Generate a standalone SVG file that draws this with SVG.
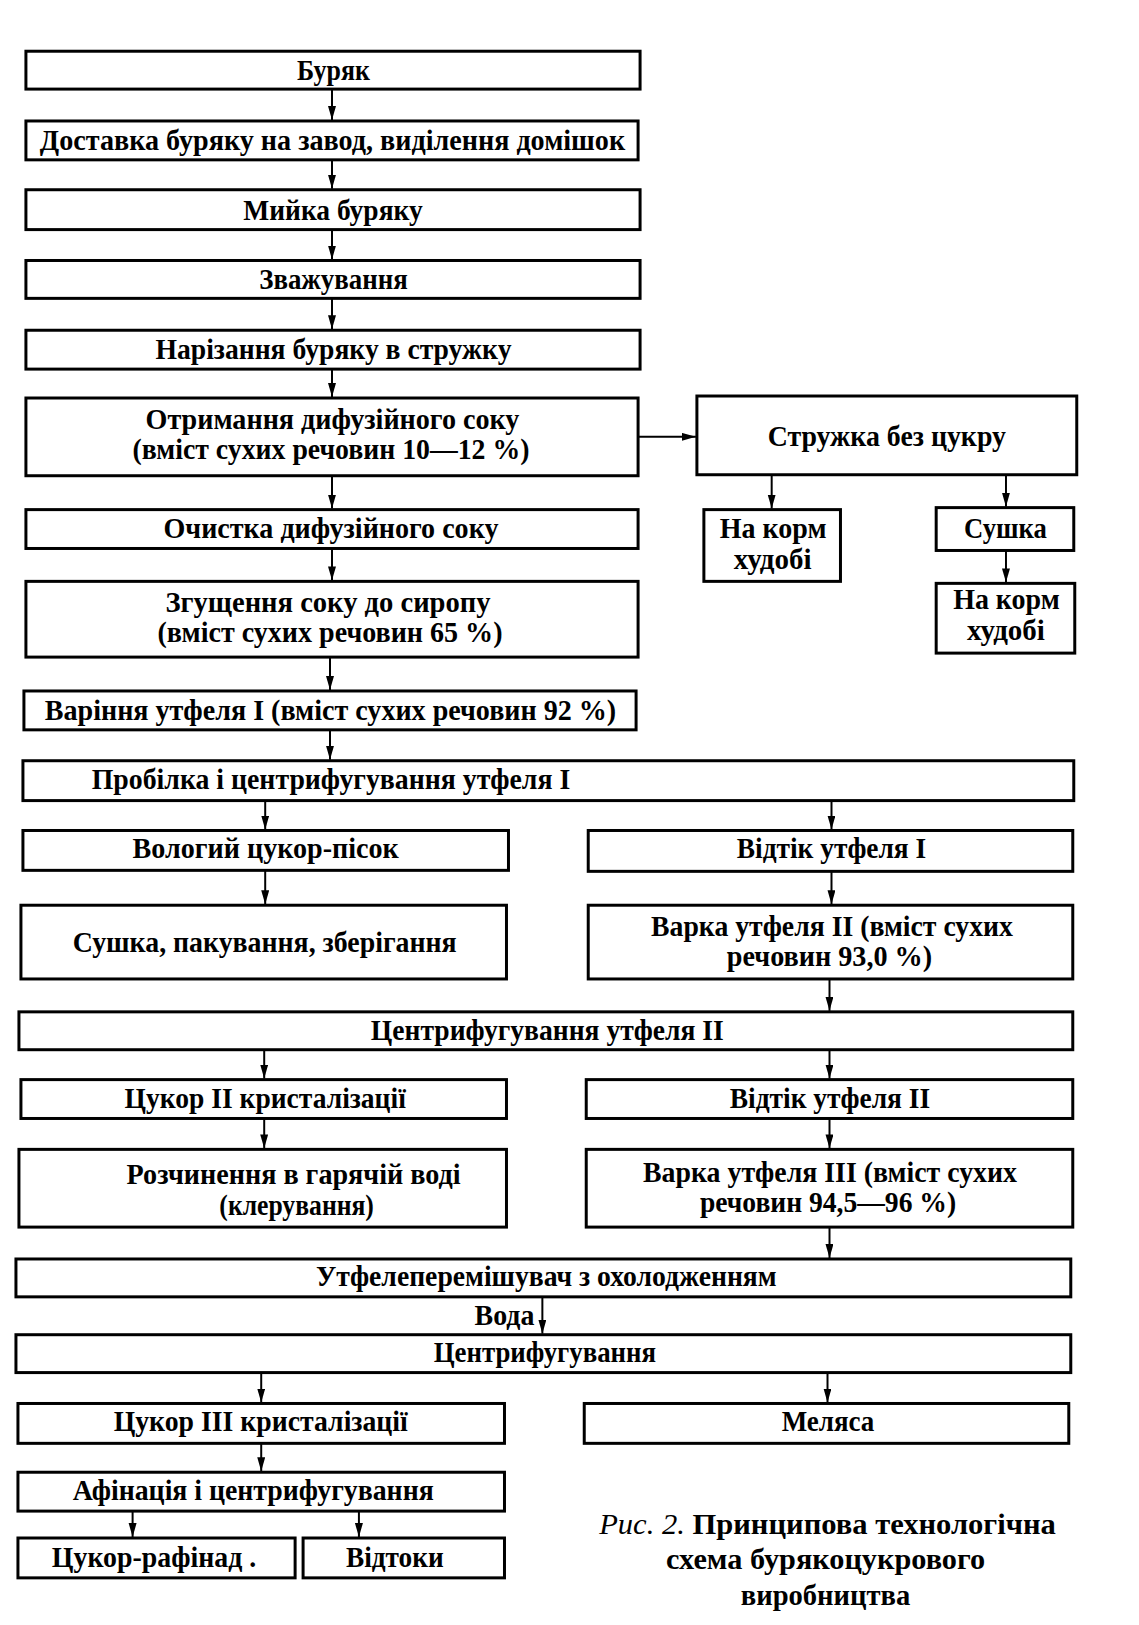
<svg xmlns="http://www.w3.org/2000/svg" width="1139" height="1625" viewBox="0 0 1139 1625">
<defs>
<marker id="ah" markerUnits="userSpaceOnUse" markerWidth="15" markerHeight="9" refX="14" refY="4" orient="auto">
<path d="M0,0 L14,4 L0,8 z" fill="#000"/>
</marker>
<style>
.b{fill:#fff;stroke:#000;stroke-width:3}
.t{font-family:"Liberation Serif","Times New Roman",serif;font-weight:bold;font-size:29px;text-anchor:middle;fill:#000}
.c{stroke:#000;stroke-width:2;fill:none;marker-end:url(#ah)}
</style>
</defs>
<rect width="1139" height="1625" fill="#fff"/>
<g transform="matrix(0.997 0 0 0.9965 0 1.4)">
<g id="connectors">
<line class="c" x1="333" y1="88" x2="333" y2="119"/>
<line class="c" x1="333" y1="159" x2="333" y2="188"/>
<line class="c" x1="333" y1="229" x2="333" y2="259"/>
<line class="c" x1="333" y1="298" x2="333" y2="329"/>
<line class="c" x1="333" y1="369" x2="333" y2="397"/>
<line class="c" x1="640" y1="437" x2="698" y2="437"/>
<line class="c" x1="774" y1="475" x2="774" y2="509"/>
<line class="c" x1="1009" y1="475" x2="1009" y2="507"/>
<line class="c" x1="1009" y1="551" x2="1009" y2="583"/>
<line class="c" x1="333" y1="476" x2="333" y2="509"/>
<line class="c" x1="333" y1="549" x2="333" y2="581"/>
<line class="c" x1="331" y1="658" x2="331" y2="691"/>
<line class="c" x1="331" y1="731" x2="331" y2="761"/>
<line class="c" x1="266" y1="802" x2="266" y2="831"/>
<line class="c" x1="834" y1="802" x2="834" y2="831"/>
<line class="c" x1="266" y1="872" x2="266" y2="906"/>
<line class="c" x1="834" y1="873" x2="834" y2="906"/>
<line class="c" x1="832" y1="981" x2="832" y2="1013"/>
<line class="c" x1="265" y1="1052" x2="265" y2="1081"/>
<line class="c" x1="832" y1="1052" x2="832" y2="1081"/>
<line class="c" x1="265" y1="1121" x2="265" y2="1151"/>
<line class="c" x1="832" y1="1121" x2="832" y2="1151"/>
<line class="c" x1="832" y1="1230" x2="832" y2="1261"/>
<line class="c" x1="544" y1="1300" x2="544" y2="1337"/>
<line class="c" x1="262" y1="1376" x2="262" y2="1406"/>
<line class="c" x1="830" y1="1376" x2="830" y2="1406"/>
<line class="c" x1="262" y1="1447" x2="262" y2="1475"/>
<line class="c" x1="133" y1="1515" x2="133" y2="1541"/>
<line class="c" x1="360" y1="1515" x2="360" y2="1541"/>
</g>
<g id="n1"><rect class="b" x="26" y="50" width="616" height="38"/><text class="t" x="334.5" y="79" textLength="73" lengthAdjust="spacingAndGlyphs">Буряк</text></g>
<g id="n2"><rect class="b" x="26" y="120" width="614" height="39"/><text class="t" x="333.5" y="149" textLength="587" lengthAdjust="spacingAndGlyphs">Доставка буряку на завод, виділення домішок</text></g>
<g id="n3"><rect class="b" x="26" y="189" width="616" height="40"/><text class="t" x="334" y="219" textLength="180" lengthAdjust="spacingAndGlyphs">Мийка буряку</text></g>
<g id="n4"><rect class="b" x="26" y="260" width="616" height="38"/><text class="t" x="334.5" y="289" textLength="149" lengthAdjust="spacingAndGlyphs">Зважування</text></g>
<g id="n5"><rect class="b" x="26" y="330" width="616" height="39"/><text class="t" x="334.5" y="359" textLength="357" lengthAdjust="spacingAndGlyphs">Нарізання буряку в стружку</text></g>
<g id="n6"><rect class="b" x="26" y="398" width="614" height="78"/><text class="t" x="333.5" y="429" textLength="375" lengthAdjust="spacingAndGlyphs">Отримання дифузійного соку</text><text class="t" x="332" y="459" textLength="398" lengthAdjust="spacingAndGlyphs">(вміст сухих речовин 10—12 %)</text></g>
<g id="n7"><rect class="b" x="699" y="396" width="381" height="79"/><text class="t" x="889.5" y="446" textLength="239" lengthAdjust="spacingAndGlyphs">Стружка без цукру</text></g>
<g id="n8"><rect class="b" x="26" y="510" width="614" height="39"/><text class="t" x="332" y="539" textLength="336" lengthAdjust="spacingAndGlyphs">Очистка дифузійного соку</text></g>
<g id="n9"><rect class="b" x="706" y="510" width="137" height="72"/><text class="t" x="775.5" y="538" textLength="107" lengthAdjust="spacingAndGlyphs">На корм</text><text class="t" x="775" y="570" textLength="78" lengthAdjust="spacingAndGlyphs">худобі</text></g>
<g id="n10"><rect class="b" x="939" y="508" width="138" height="43"/><text class="t" x="1008.5" y="539" textLength="83" lengthAdjust="spacingAndGlyphs">Сушка</text></g>
<g id="n11"><rect class="b" x="939" y="584" width="139" height="70"/><text class="t" x="1009.5" y="610" textLength="107" lengthAdjust="spacingAndGlyphs">На корм</text><text class="t" x="1009" y="641" textLength="78" lengthAdjust="spacingAndGlyphs">худобі</text></g>
<g id="n12"><rect class="b" x="26" y="582" width="614" height="76"/><text class="t" x="329" y="613" textLength="326" lengthAdjust="spacingAndGlyphs">Згущення соку до сиропу</text><text class="t" x="331" y="643" textLength="346" lengthAdjust="spacingAndGlyphs">(вміст сухих речовин 65 %)</text></g>
<g id="n13"><rect class="b" x="24" y="692" width="614" height="39"/><text class="t" x="331.5" y="721" textLength="573" lengthAdjust="spacingAndGlyphs">Варіння утфеля I (вміст сухих речовин 92 %)</text></g>
<g id="n14"><rect class="b" x="23" y="762" width="1054" height="40"/><text class="t" x="92" y="790" style="text-anchor:start" textLength="480" lengthAdjust="spacingAndGlyphs">Пробілка і центрифугування утфеля I</text></g>
<g id="n15"><rect class="b" x="23" y="832" width="487" height="40"/><text class="t" x="266.5" y="860" textLength="267" lengthAdjust="spacingAndGlyphs">Вологий цукор-пісок</text></g>
<g id="n16"><rect class="b" x="590" y="832" width="486" height="41"/><text class="t" x="834" y="860" textLength="190" lengthAdjust="spacingAndGlyphs">Відтік утфеля I</text></g>
<g id="n17"><rect class="b" x="21" y="907" width="487" height="74"/><text class="t" x="265.5" y="954" textLength="385" lengthAdjust="spacingAndGlyphs">Сушка, пакування, зберігання</text></g>
<g id="n18"><rect class="b" x="590" y="907" width="486" height="74"/><text class="t" x="834.5" y="938" textLength="363" lengthAdjust="spacingAndGlyphs">Варка утфеля II (вміст сухих</text><text class="t" x="832" y="968" textLength="206" lengthAdjust="spacingAndGlyphs">речовин 93,0 %)</text></g>
<g id="n19"><rect class="b" x="19" y="1014" width="1057" height="38"/><text class="t" x="549" y="1042" textLength="354" lengthAdjust="spacingAndGlyphs">Центрифугування утфеля II</text></g>
<g id="n20"><rect class="b" x="21" y="1082" width="487" height="39"/><text class="t" x="266" y="1111" textLength="282" lengthAdjust="spacingAndGlyphs">Цукор II кристалізації</text></g>
<g id="n21"><rect class="b" x="588" y="1082" width="488" height="39"/><text class="t" x="832.5" y="1111" textLength="201" lengthAdjust="spacingAndGlyphs">Відтік утфеля II</text></g>
<g id="n22"><rect class="b" x="19" y="1152" width="489" height="78"/><text class="t" x="294.5" y="1187" textLength="335" lengthAdjust="spacingAndGlyphs">Розчинення в гарячій воді</text><text class="t" x="297.5" y="1218" textLength="155" lengthAdjust="spacingAndGlyphs">(клерування)</text></g>
<g id="n23"><rect class="b" x="588" y="1152" width="488" height="78"/><text class="t" x="832.5" y="1185" textLength="375" lengthAdjust="spacingAndGlyphs">Варка утфеля III (вміст сухих</text><text class="t" x="830.5" y="1215" textLength="257" lengthAdjust="spacingAndGlyphs">речовин 94,5—96 %)</text></g>
<g id="n24"><rect class="b" x="16" y="1262" width="1058" height="38"/><text class="t" x="548" y="1289" textLength="462" lengthAdjust="spacingAndGlyphs">Утфелеперемішувач з охолодженням</text></g>
<g id="n25"><text class="t" x="506" y="1328" textLength="60" lengthAdjust="spacingAndGlyphs">Вода</text></g>
<g id="n26"><rect class="b" x="16" y="1338" width="1058" height="38"/><text class="t" x="546.5" y="1365" textLength="223" lengthAdjust="spacingAndGlyphs">Центрифугування</text></g>
<g id="n27"><rect class="b" x="18" y="1407" width="488" height="40"/><text class="t" x="261.5" y="1435" textLength="295" lengthAdjust="spacingAndGlyphs">Цукор III кристалізації</text></g>
<g id="n28"><rect class="b" x="586" y="1407" width="486" height="40"/><text class="t" x="830.5" y="1435" textLength="93" lengthAdjust="spacingAndGlyphs">Меляса</text></g>
<g id="n29"><rect class="b" x="18" y="1476" width="488" height="39"/><text class="t" x="254" y="1504" textLength="362" lengthAdjust="spacingAndGlyphs">Афінація і центрифугування</text></g>
<g id="n30"><rect class="b" x="18" y="1542" width="278" height="40"/><text class="t" x="154.5" y="1571" textLength="205" lengthAdjust="spacingAndGlyphs">Цукор-рафінад .</text></g>
<g id="n31"><rect class="b" x="304" y="1542" width="202" height="40"/><text class="t" x="396" y="1571" textLength="98" lengthAdjust="spacingAndGlyphs">Відтоки</text></g>
<g id="caption">
<text class="t" x="830" y="1538" textLength="458" lengthAdjust="spacingAndGlyphs"><tspan font-style="italic" font-weight="normal">Рис. 2.</tspan> Принципова технологічна</text>
<text class="t" x="828" y="1573" textLength="320" lengthAdjust="spacingAndGlyphs">схема бурякоцукрового</text>
<text class="t" x="828" y="1609" textLength="170" lengthAdjust="spacingAndGlyphs">виробництва</text>
</g>
</g>
</svg>
